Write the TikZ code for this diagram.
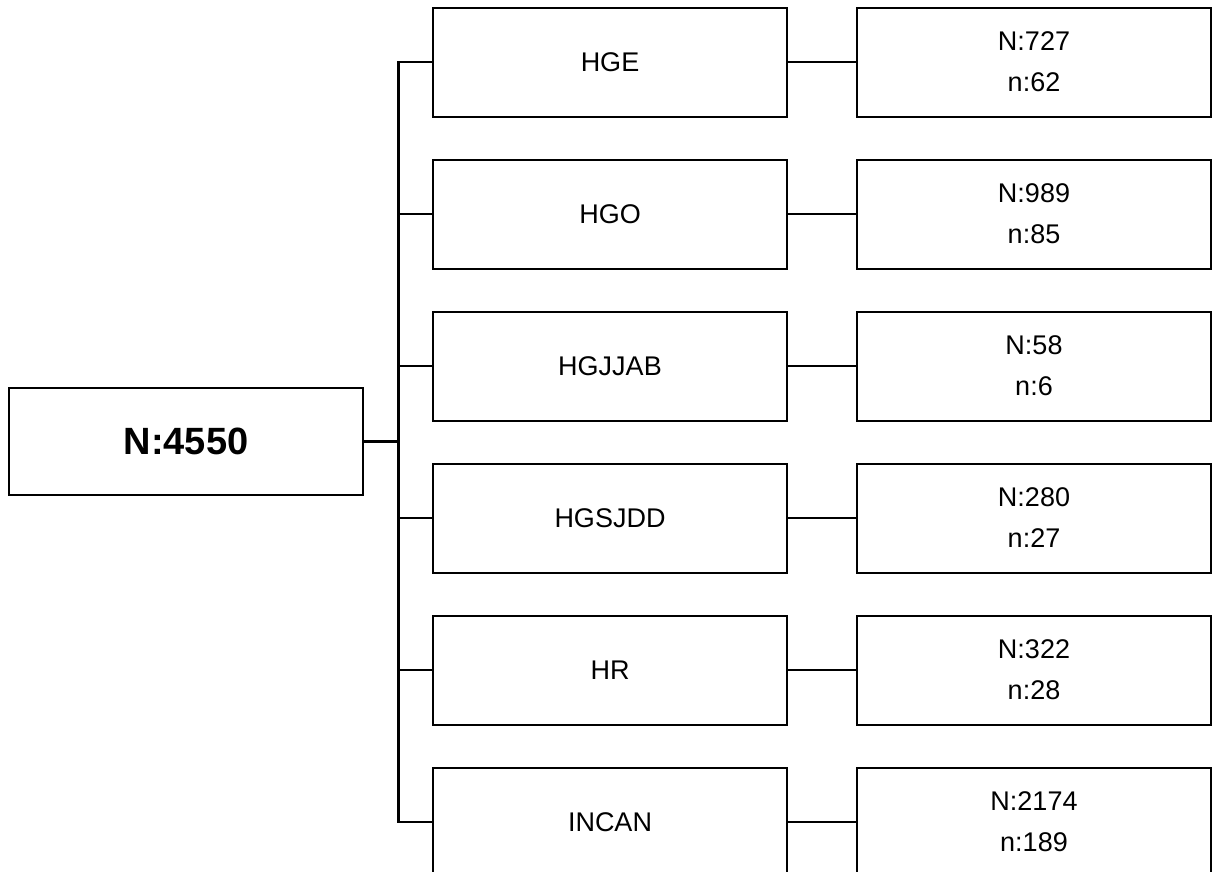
\documentclass[tikz,border=0pt]{standalone}
\usepackage{fontspec}
\setmainfont{Liberation Sans}
\begin{document}
\begin{tikzpicture}[x=1pt,y=-1pt,
  box/.style={draw=black,line width=2pt,fill=white,minimum width=354pt,minimum height=109pt,inner sep=0pt,align=center,font=\fontsize{27}{41}\selectfont},
  rootbox/.style={draw=black,line width=2.2pt,fill=white,minimum width=354pt,minimum height=107pt,inner sep=0pt,font=\fontsize{38}{44}\selectfont\bfseries},
  link/.style={draw=black,line width=2pt},
  trunkline/.style={draw=black,line width=3pt,shorten <=-1pt,shorten >=-1pt}]
\useasboundingbox (0,0) rectangle (1215,871);
\clip (0,0) rectangle (1215,871);
\node[rootbox] (root) at (186,441.5) {N:4550};
\coordinate (j) at (398,441.5);
\foreach \i/\lab/\bign/\smalln [count=\k] in {0/HGE/727/62,1/HGO/989/85,2/HGJJAB/58/6,3/HGSJDD/280/27,4/HR/322/28,5/INCAN/2174/189}{
  \node[box] (m\k) at (610,62+152*\i) {\lab};
  \node[box] (r\k) at (1034,62+152*\i) {N:\bign\\n:\smalln};
  \draw[link] (m\k.east) -- (r\k.west);
  \draw[link] (j |- m\k.west) -- (m\k.west);
}
\draw[trunkline] (j |- m1.west) -- (j |- m6.west);
\draw[link,line width=3pt] (root.east) -- (j);
\end{tikzpicture}
\end{document}
